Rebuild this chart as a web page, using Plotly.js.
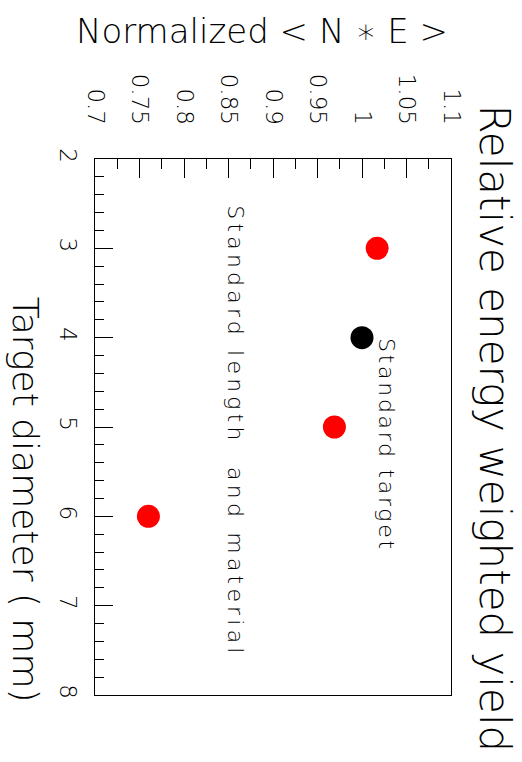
<!DOCTYPE html>
<html>
<head>
<meta charset="utf-8">
<script src="https://cdn.plot.ly/plotly-3.0.1.min.js"></script>
<style>
html, body { margin: 0; padding: 0; background: #fff; overflow: hidden; }
#chart { width: 522px; height: 762px; }
</style>
</head>
<body>
<div id="chart"></div>
<script>
// Data
const variedDiameter = [3, 5, 6];             // mm
const variedYield = [1.017, 0.969, 0.760];     // normalized <N*E>
const standardDiameter = [4];
const standardYield = [1.0];

const xTickVals = [0.7, 0.75, 0.8, 0.85, 0.9, 0.95, 1, 1.05, 1.1];
const xTickText = ['0.7', '0.75', '0.8', '0.85', '0.9', '0.95', '1', '1.05', '1.1'];
const yTickVals = [2, 3, 4, 5, 6, 7, 8];
const yTickText = ['2', '3', '4', '5', '6', '7', '8'];

const titleText = 'Relative energy weighted yield';
const xTitle = 'Normalized &lt; N &#8727; E &gt;';
const yTitle = 'Target diameter ( mm)';
const noteStandard = 'Standard target';
const noteVaried = 'Standard length\u00a0 and material';

const FONT = '"DejaVu Sans", sans-serif';
const W = 200;

const traces = [
  {
    type: 'scatter', mode: 'markers',
    x: variedYield, y: variedDiameter,
    marker: { color: '#ff0000', size: 23, line: { width: 0 } },
    showlegend: false, hoverinfo: 'x+y'
  },
  {
    type: 'scatter', mode: 'markers',
    x: standardYield, y: standardDiameter,
    marker: { color: '#000000', size: 23, line: { width: 0 } },
    showlegend: false, hoverinfo: 'x+y'
  }
];

const layout = {
  width: 522, height: 762,
  margin: { l: 94.7, r: 70.7, t: 158.5, b: 66.5, pad: 0 },
  paper_bgcolor: '#ffffff', plot_bgcolor: '#ffffff',
  font: { family: FONT, weight: W, color: '#000', size: 23 },
  showlegend: false,
  xaxis: {
    range: [0.7, 1.1], side: 'top',
    tickmode: 'array', tickvals: xTickVals, ticktext: xTickText,
    tickangle: 90, ticks: 'inside', ticklen: 19, tickwidth: 1, tickcolor: '#000',
    ticklabelstandoff: 25,
    minor: { dtick: 0.025, tick0: 0.7, ticks: 'inside', ticklen: 10, tickwidth: 1, tickcolor: '#000', showgrid: false },
    showline: true, linecolor: '#000', linewidth: 1, mirror: true,
    showgrid: false, zeroline: false,
    tickfont: { family: FONT, weight: W, size: 23, color: '#000' }
  },
  yaxis: {
    range: [8, 2],
    tickmode: 'array', tickvals: yTickVals, ticktext: yTickText,
    tickangle: 90, ticks: 'inside', ticklen: 18, tickwidth: 1, tickcolor: '#000',
    ticklabelstandoff: 6,
    minor: { dtick: 0.2, tick0: 2, ticks: 'inside', ticklen: 9, tickwidth: 1, tickcolor: '#000', showgrid: false },
    showline: true, linecolor: '#000', linewidth: 1, mirror: true,
    showgrid: false, zeroline: false,
    tickfont: { family: FONT, weight: W, size: 23, color: '#000' }
  },
  annotations: [
    {
      text: titleText, xref: 'paper', yref: 'paper', x: 1.122, y: 0.4963,
      xanchor: 'center', yanchor: 'middle', textangle: 90, showarrow: false,
      font: { family: FONT, weight: W, size: 42, color: '#000' }
    },
    {
      text: xTitle, xref: 'paper', yref: 'paper', x: 0.998, y: 1.2387,
      xanchor: 'right', yanchor: 'middle', showarrow: false,
      font: { family: FONT, weight: W, size: 34, color: '#000' }
    },
    {
      text: yTitle, xref: 'paper', yref: 'paper', x: -0.196, y: 0.364,
      xanchor: 'center', yanchor: 'middle', textangle: 90, showarrow: false,
      font: { family: FONT, weight: W, size: 36, color: '#000' }
    },
    {
      text: '<span style="letter-spacing:2.7px">' + noteStandard + '</span>',
      xref: 'paper', yref: 'paper', x: 0.817, y: 0.4665,
      xanchor: 'center', yanchor: 'middle', textangle: 90, showarrow: false,
      font: { family: FONT, weight: W, size: 22, color: '#000' }
    },
    {
      text: '<span style="letter-spacing:4.2px">' + noteVaried + '</span>',
      xref: 'paper', yref: 'paper', x: 0.394, y: 0.4916,
      xanchor: 'center', yanchor: 'middle', textangle: 90, showarrow: false,
      font: { family: FONT, weight: W, size: 22, color: '#000' }
    }
  ]
};

Plotly.newPlot('chart', traces, layout, { displayModeBar: false });
</script>
</body>
</html>
